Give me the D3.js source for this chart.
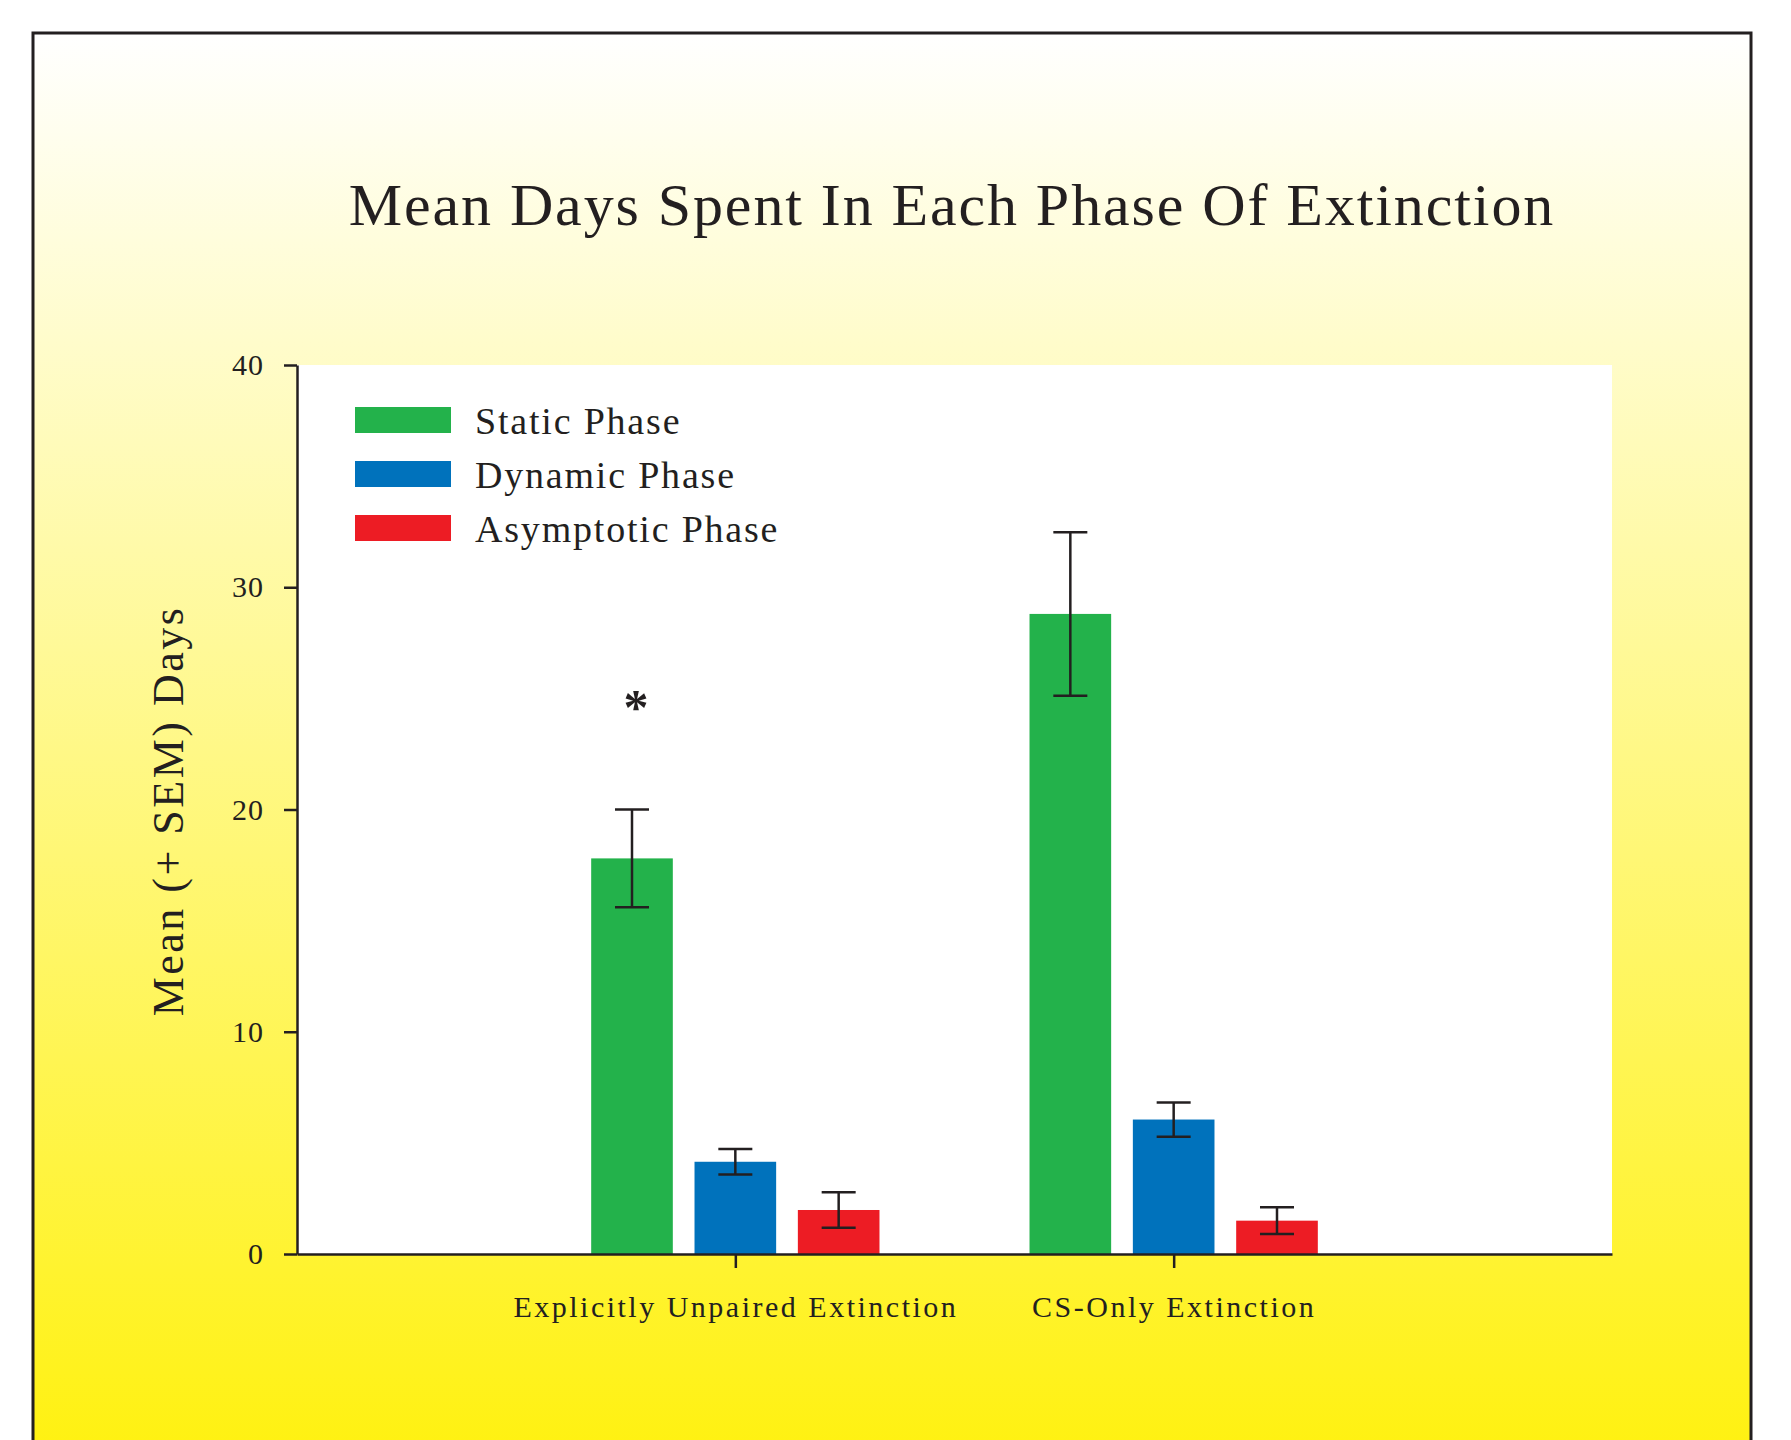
<!DOCTYPE html>
<html>
<head>
<meta charset="utf-8">
<script src="https://cdn.jsdelivr.net/npm/d3@7"></script>
<style>
    body { margin: 0; background: #ffffff; }
    svg { display: block; }
    text { font-family: "Liberation Serif", "Times New Roman", serif; fill: #231f20; }
</style>
</head>
<body>
<svg id="chart" width="1791" height="1440"></svg>
<script>
// Chart data
const groups = ['Explicitly Unpaired Extinction', 'CS-Only Extinction'];
const phases = ['Static Phase', 'Dynamic Phase', 'Asymptotic Phase'];
const phaseColors = ['#23b24b', '#0072bc', '#ed1c24'];
const meanDays = [
    [17.8, 4.15, 1.98],   // Explicitly Unpaired
    [28.8, 6.05, 1.5]     // CS-Only
];
const semDays = [
    [2.2, 0.57, 0.8],
    [3.68, 0.77, 0.6]
];
const yTicks = [0, 10, 20, 30, 40];
// significance marker
const stars = [{ group: 0, phase: 0, value: 25, label: '*' }];

const svg = d3.select('#chart');
const ink = '#231f20';

// Background panel with gradient
const defs = svg.append('defs');
const grad = defs.append('linearGradient')
    .attr('id', 'bg')
    .attr('x1', 0).attr('y1', 0).attr('x2', 0).attr('y2', 1);
grad.append('stop').attr('offset', '0%').attr('stop-color', '#ffffff');
grad.append('stop').attr('offset', '100%').attr('stop-color', '#fff10d');

svg.append('rect')
    .attr('x', 33).attr('y', 33)
    .attr('width', 1718).attr('height', 1440)
    .attr('fill', 'url(#bg)')
    .attr('stroke', ink)
    .attr('stroke-width', 3);

// Plot area
const margin = { left: 297, right: 1612, top: 365, bottom: 1254 };

const y = d3.scaleLinear()
    .domain([0, 40])
    .range([margin.bottom, margin.top]);

const x0 = d3.scalePoint()
    .domain(groups)
    .range([margin.left, margin.right])
    .padding(1);

const x1 = d3.scaleBand()
    .domain(phases)
    .range([-155, 155])
    .paddingInner(0.21)
    .paddingOuter(0.105);

svg.append('rect')
    .attr('x', margin.left).attr('y', margin.top)
    .attr('width', margin.right - margin.left)
    .attr('height', margin.bottom - margin.top)
    .attr('fill', '#ffffff');

// Title
svg.append('text')
    .attr('x', 952)
    .attr('y', 225)
    .attr('text-anchor', 'middle')
    .style('font-size', '60px')
    .style('letter-spacing', '1.9px')
    .text('Mean Days Spent In Each Phase Of Extinction');

// Bars
const groupG = svg.append('g')
    .selectAll('g')
    .data(groups)
    .enter()
    .append('g')
    .attr('transform', d => `translate(${x0(d)},0)`);

const cells = groupG.selectAll('g.cell')
    .data((g, gi) => phases.map((p, pi) => ({
        phase: p,
        color: phaseColors[pi],
        mean: meanDays[gi][pi],
        sem: semDays[gi][pi]
    })))
    .enter()
    .append('g')
    .attr('class', 'cell');

cells.append('rect')
    .attr('x', d => x1(d.phase))
    .attr('y', d => y(d.mean))
    .attr('width', x1.bandwidth())
    .attr('height', d => y(0) - y(d.mean))
    .attr('fill', d => d.color);

// Error bars
const capHalf = 17;
cells.append('line')
    .attr('x1', d => x1(d.phase) + x1.bandwidth() / 2)
    .attr('x2', d => x1(d.phase) + x1.bandwidth() / 2)
    .attr('y1', d => y(d.mean + d.sem))
    .attr('y2', d => y(d.mean - d.sem));
cells.append('line')
    .attr('x1', d => x1(d.phase) + x1.bandwidth() / 2 - capHalf)
    .attr('x2', d => x1(d.phase) + x1.bandwidth() / 2 + capHalf)
    .attr('y1', d => y(d.mean + d.sem))
    .attr('y2', d => y(d.mean + d.sem));
cells.append('line')
    .attr('x1', d => x1(d.phase) + x1.bandwidth() / 2 - capHalf)
    .attr('x2', d => x1(d.phase) + x1.bandwidth() / 2 + capHalf)
    .attr('y1', d => y(d.mean - d.sem))
    .attr('y2', d => y(d.mean - d.sem));
cells.selectAll('line')
    .attr('stroke', ink)
    .attr('stroke-width', 2.5);

// Significance star
svg.append('g')
    .selectAll('text')
    .data(stars)
    .enter()
    .append('text')
    .attr('x', d => x0(groups[d.group]) + x1(phases[d.phase]) + x1.bandwidth() / 2 + 4)
    .attr('y', d => y(d.value) + 26)
    .attr('text-anchor', 'middle')
    .style('font-size', '50px')
    .style('font-weight', 'bold')
    .text(d => d.label);

// Y axis
const yAxis = svg.append('g')
    .attr('transform', `translate(${margin.left},0)`)
    .call(d3.axisLeft(y).tickValues(yTicks).tickSize(13).tickSizeOuter(0).tickPadding(20));
yAxis.selectAll('text')
    .style('font-family', '"Liberation Serif", serif')
    .style('font-size', '30px')
    .style('letter-spacing', '1px')
    .attr('fill', ink);

// X axis
const xAxis = svg.append('g')
    .attr('transform', `translate(0,${margin.bottom})`)
    .call(d3.axisBottom(x0).tickSize(14).tickSizeOuter(0).tickPadding(28));
xAxis.selectAll('text')
    .style('font-family', '"Liberation Serif", serif')
    .style('font-size', '30px')
    .style('letter-spacing', '2.5px')
    .attr('fill', ink);

[yAxis, xAxis].forEach(axis => {
    axis.select('.domain').attr('stroke', ink).attr('stroke-width', 2.5);
    axis.selectAll('.tick line').attr('stroke', ink).attr('stroke-width', 2.5);
});

// Y axis label
svg.append('text')
    .attr('transform', 'translate(183,811) rotate(-90)')
    .attr('text-anchor', 'middle')
    .style('font-size', '44px')
    .style('letter-spacing', '2.5px')
    .text('Mean (+ SEM) Days');

// Legend
const legend = svg.append('g')
    .selectAll('g')
    .data(phases)
    .enter()
    .append('g')
    .attr('transform', (d, i) => `translate(355,${407 + i * 54})`);

legend.append('rect')
    .attr('width', 96)
    .attr('height', 26)
    .attr('fill', (d, i) => phaseColors[i]);

legend.append('text')
    .attr('x', 120)
    .attr('y', 27)
    .style('font-size', '38px')
    .style('letter-spacing', '1.8px')
    .text(d => d);
</script>
</body>
</html>
